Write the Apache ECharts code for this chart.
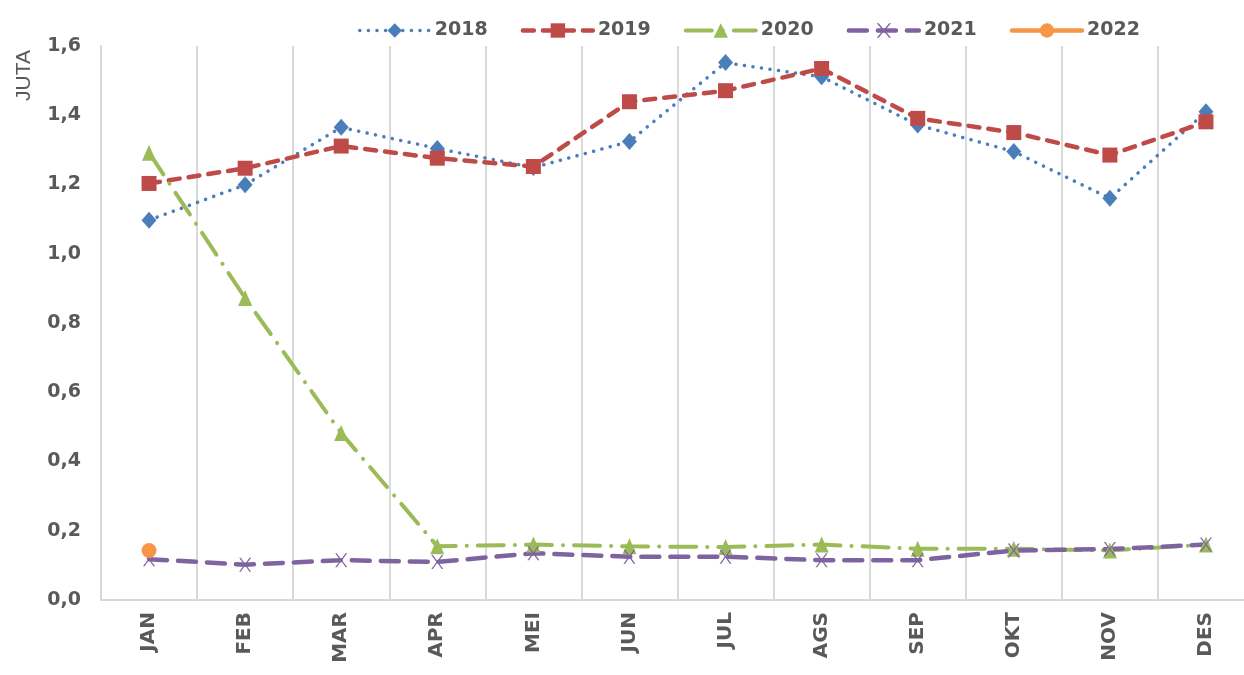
<!DOCTYPE html>
<html>
<head>
<meta charset="utf-8">
<title>JUTA 2018-2022</title>
<script src="https://cdn.jsdelivr.net/npm/echarts@6/dist/echarts.min.js"></script>
<style>
  html, body { margin: 0; padding: 0; background: #fff; }
  #chart { width: 1244px; height: 675px; }
</style>
</head>
<body>
<div id="chart"></div>
<script>
// bulan
var months = ['JAN', 'FEB', 'MAR', 'APR', 'MEI', 'JUN', 'JUL', 'AGS', 'SEP', 'OKT', 'NOV', 'DES'];
// nilai per tahun (juta)
var y2018 = [1.097, 1.199, 1.365, 1.304, 1.249, 1.324, 1.552, 1.511, 1.372, 1.295, 1.160, 1.410];
var y2019 = [1.203, 1.247, 1.311, 1.276, 1.252, 1.439, 1.471, 1.535, 1.391, 1.350, 1.285, 1.381];
var y2020 = [1.292, 0.872, 0.482, 0.155, 0.160, 0.155, 0.153, 0.160, 0.148, 0.148, 0.143, 0.160];
var y2021 = [0.118, 0.102, 0.115, 0.110, 0.135, 0.125, 0.125, 0.115, 0.115, 0.143, 0.147, 0.160];
var y2022 = [0.143];
// sumbu y
var yMin = 0, yMax = 1.6, yStep = 0.2;

var grey = '#595959';
var xMark = 'path://M0,0L1.6,0L6,5.2L10.4,0L12,0L6.8,6L12,12L10.4,12L6,6.8L1.6,12L0,12L5.2,6Z';

var chart = echarts.init(document.getElementById('chart'));

// satu seri garis
function line(name, data, color, width, dash, symbol, size) {
    return {
        name: name,
        type: 'line',
        data: data,
        symbol: symbol,
        symbolSize: size,
        showSymbol: true,
        lineStyle: { color: color, width: width, type: dash, cap: 'round' },
        itemStyle: { color: color },
        emphasis: { disabled: true }
    };
}

var series = [
    line('2018', y2018, '#4a7ebb', 3.5, [0.1, 8.5], 'diamond', [15, 17]),
    line('2019', y2019, '#be4b48', 4.5, [11, 9], 'rect', 15),
    line('2020', y2020, '#9bbb59', 4, [26, 11, 0.1, 11], 'triangle', [14, 16]),
    line('2021', y2021, '#7f63a1', 4.5, [18, 11], xMark, [12, 14]),
    line('2022', y2022, '#f79646', 4.5, 'solid', 'circle', 15)
];

chart.setOption({
    animation: false,
    backgroundColor: '#fff',
    legend: {
        left: 353,
        top: 16,
        itemWidth: 70,
        itemHeight: 18,
        itemGap: 33,
        data: series.map(function (s) {
            return { name: s.name, lineStyle: { width: s.lineStyle.width } };
        }),
        textStyle: { fontFamily: 'DejaVu Sans', fontWeight: 'bold', fontSize: 19, color: grey }
    },
    grid: { left: 101, top: 46, width: 1153, bottom: 75, containLabel: false, outerBoundsMode: 'none' },
    xAxis: {
        type: 'category',
        data: months,
        boundaryGap: true,
        axisLine: { lineStyle: { color: '#d9d9d9', width: 2 } },
        axisTick: { show: false },
        splitLine: { show: true, showMaxLine: false, lineStyle: { color: '#d9d9d9', width: 2 } },
        axisLabel: {
            rotate: 90,
            margin: 12,
            interval: 0,
            fontFamily: 'DejaVu Sans',
            fontWeight: 'bold',
            fontSize: 20,
            color: grey
        }
    },
    yAxis: {
        type: 'value',
        min: yMin,
        max: yMax,
        interval: yStep,
        name: 'JUTA',
        nameLocation: 'end',
        nameRotate: 90,
        nameGap: -4,
        nameTextStyle: {
            fontFamily: 'Liberation Sans',
            fontSize: 21,
            color: grey,
            align: 'right',
            verticalAlign: 'bottom',
            padding: [0, 0, 66, 0]
        },
        axisLine: { show: true, lineStyle: { color: '#d9d9d9', width: 2 } },
        axisTick: { show: false },
        splitLine: { show: false },
        axisLabel: {
            margin: 20,
            fontFamily: 'DejaVu Sans',
            fontWeight: 'bold',
            fontSize: 19,
            color: grey,
            formatter: function (v) { return v.toFixed(1).replace('.', ','); }
        }
    },
    series: series
});
</script>
</body>
</html>
